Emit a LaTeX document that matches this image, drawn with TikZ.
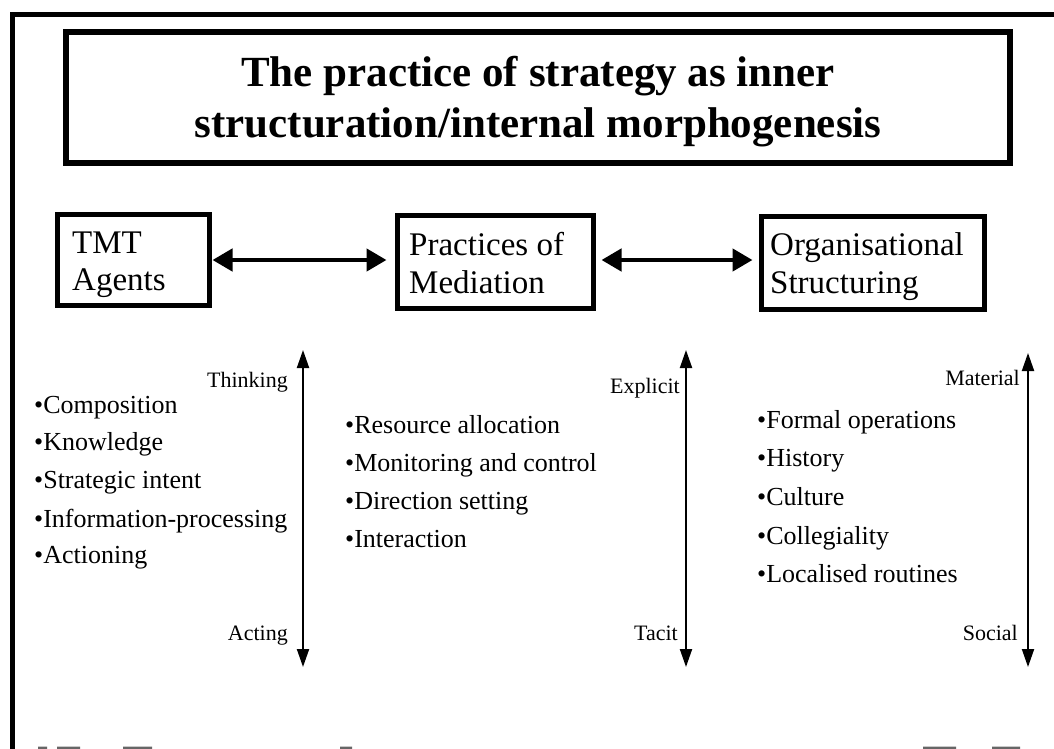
\documentclass[tikz,border=0pt]{standalone}
\usepackage{fontspec}
\setmainfont{Liberation Serif}
\usetikzlibrary{arrows.meta}

\tikzset{
  frame/.style={line width=5pt},
  titlebox/.style={draw, line width=6pt, minimum width=944pt, minimum height=131pt, inner sep=0pt},
  titletxt/.style={anchor=base, inner sep=0pt, font=\fontsize{43}{50}\selectfont\bfseries},
  box/.style={draw, line width=5pt, inner sep=0pt},
  boxtxt/.style={anchor=base west, inner sep=0pt, font=\fontsize{33}{38}\selectfont},
  link/.style={line width=4.5pt, {Triangle[length=20pt,width=22pt]}-{Triangle[length=20pt,width=22pt]}},
  axis/.style={line width=2pt, {Triangle[length=18pt,width=12pt]}-{Triangle[length=18pt,width=12pt]}},
  item/.style={anchor=base west, inner sep=0pt, font=\fontsize{26}{30}\selectfont},
  pole/.style={anchor=base east, inner sep=0pt, font=\fontsize{22}{26}\selectfont},
  scrap/.style={fill=black!60, draw=none},
}

\begin{document}
\begin{tikzpicture}[x=1pt, y=-1pt]
  \useasboundingbox (0,0) rectangle (1054,749);
  \fill[white] (0,0) rectangle (1054,749);

  % outer frame (only its top and left sides fall on the page)
  \draw[frame] (12,749) -- (12,15) -- (1054,15);

  % title
  \node[titlebox] (title) at (538,97.5) {};
  \node[titletxt] (title1) at (538,87) {The practice of strategy as inner};
  \node[titletxt] (title2) at (538,138) {structuration/internal morphogenesis};

  % the three boxes
  \node[box, minimum width=152pt, minimum height=91pt] (tmt) at (133,259.5) {};
  \node[boxtxt] (tmt1) at (72,253) {TMT};
  \node[boxtxt] (tmt2) at (72,290) {Agents};

  \node[box, minimum width=196pt, minimum height=93pt] (prac) at (495,261.5) {};
  \node[boxtxt] (prac1) at (409,255) {Practices of};
  \node[boxtxt] (prac2) at (409,293) {Mediation};

  \node[box, minimum width=223pt, minimum height=93pt] (org) at (872.5,262.5) {};
  \node[boxtxt] (org1) at (770,255) {Organisational};
  \node[boxtxt] (org2) at (770,293) {Structuring};

  \draw[link, shorten <=1pt, shorten >=8pt] (tmt.east |- 0,260) -- (prac.west |- 0,260);
  \draw[link, shorten <=6pt, shorten >=6pt] (prac.east |- 0,260) -- (org.west |- 0,260);

  % left column
  \node[item] (l1) at (34,413) {•Composition};
  \node[item] (l2) at (34,450) {•Knowledge};
  \node[item] (l3) at (34,488) {•Strategic intent};
  \node[item] (l4) at (34,527) {•Information-processing};
  \node[item] (l5) at (34,563) {•Actioning};
  \coordinate (a1t) at (303,350);
  \coordinate (a1b) at (303,667);
  \draw[axis] (a1b) -- (a1t);
  \node[pole] (p1t) at (288,387) {Thinking};
  \node[pole] (p1b) at (288,640) {Acting};

  % middle column
  \node[item] (m1) at (345,433) {•Resource allocation};
  \node[item] (m2) at (345,471) {•Monitoring and control};
  \node[item] (m3) at (345,509) {•Direction setting};
  \node[item] (m4) at (345,547) {•Interaction};
  \coordinate (a2t) at (686,350);
  \coordinate (a2b) at (686,667);
  \draw[axis] (a2b) -- (a2t);
  \node[pole] (p2t) at (680,393) {Explicit};
  \node[pole] (p2b) at (678,640) {Tacit};

  % right column
  \node[item] (r1) at (757,428) {•Formal operations};
  \node[item] (r2) at (757,466) {•History};
  \node[item] (r3) at (757,505) {•Culture};
  \node[item] (r4) at (757,544) {•Collegiality};
  \node[item] (r5) at (757,582) {•Localised routines};
  \coordinate (a3t) at (1028,353);
  \coordinate (a3b) at (1028,667);
  \draw[axis] (a3b) -- (a3t);
  \node[pole] (p3t) at (1020,385) {Material};
  \node[pole] (p3b) at (1018,640) {Social};

  % tops of the next heading, cut by the lower edge
  \fill[scrap] (38,746.5) rectangle (47,749) (57,746.5) rectangle (80,749)
               (123,746.5) rectangle (152,749) (340,746.5) rectangle (352,749)
               (923,746.5) rectangle (956,749) (992,746.5) rectangle (1020,749);
\end{tikzpicture}
\end{document}
